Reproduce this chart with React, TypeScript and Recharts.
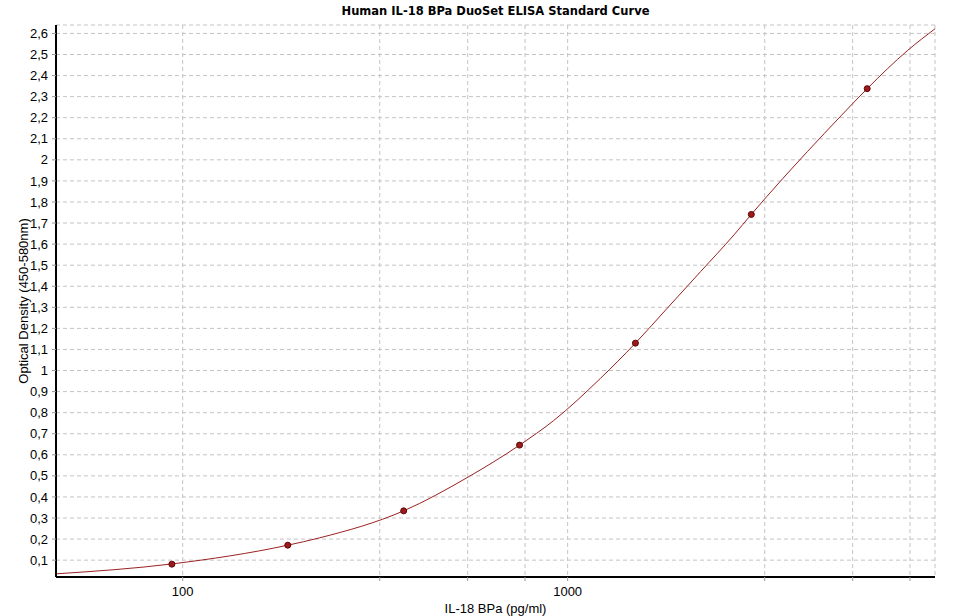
import React from "react"
import { ComposedChart, Line, Scatter, XAxis, YAxis, CartesianGrid } from "recharts"

// standards (pg/ml) and measured OD
const standardConc = [93.75, 187.5, 375, 750, 1500, 3000, 6000]
const standardOD = [0.081, 0.171, 0.334, 0.646, 1.13, 1.741, 2.338]

// fitted curve
const curveConc = [46.875, 93.75, 187.5, 227, 375, 551, 750, 919, 1217, 1500, 1815, 2216, 2705, 3000, 3616, 4200, 5130, 6000, 7650, 9000]
const curveOD = [0.035, 0.082, 0.171, 0.206, 0.334, 0.494, 0.646, 0.762, 0.963, 1.13, 1.296, 1.47, 1.644, 1.741, 1.91, 2.04, 2.209, 2.338, 2.52, 2.622]

const xTicks = [100, 325, 550, 775, 1000, 3250, 5500, 7750]
const xTickLabels = ["100", "", "", "", "1000", "", "", ""]
const yTicks = [0.1, 0.2, 0.3, 0.4, 0.5, 0.6, 0.7, 0.8, 0.9, 1, 1.1, 1.2, 1.3, 1.4, 1.5, 1.6, 1.7, 1.8, 1.9, 2, 2.1, 2.2, 2.3, 2.4, 2.5, 2.6]

const curveData = curveConc.map((x, i) => ({ x, y: curveOD[i] }))
const pointData = standardConc.map((x, i) => ({ x, y: standardOD[i] }))

const font = "'Liberation Sans', Arial, sans-serif"

const Dot = (props: any) => {
  const { cx, cy } = props
  if (cx == null || cy == null) return null
  return <circle cx={cx} cy={cy} r={3} fill="#9e1a1a" stroke="#5c0505" strokeWidth={1} />
}

export default function App() {
  return (
    <div style={{ position: "relative", width: 955, height: 616, background: "#fff", fontFamily: font }}>
      <style>{"body{margin:0}"}</style>
      <div
        style={{
          position: "absolute",
          top: 4,
          left: 56,
          width: 879,
          textAlign: "center",
          fontFamily: "'DejaVu Sans', sans-serif",
          fontWeight: "bold",
          fontSize: 11.5,
          color: "#000",
        }}
      >
        Human IL-18 BPa DuoSet ELISA Standard Curve
      </div>
      <ComposedChart width={955} height={616} margin={{ top: 25, right: 20, left: 0, bottom: 0 }}>
        <CartesianGrid stroke="#c4c4c4" strokeDasharray="4 3" />
        <XAxis
          dataKey="x"
          type="number"
          scale="log"
          domain={[46.875, 9000]}
          allowDataOverflow
          ticks={xTicks}
          interval={0}
          tickFormatter={(v: number) => xTickLabels[xTicks.indexOf(v)] ?? ""}
          height={39}
          tickSize={4}
          tickMargin={6}
          axisLine={{ stroke: "#000", strokeWidth: 2 }}
          tickLine={{ stroke: "#999" }}
          tick={{ fill: "#000", fontSize: 13, fontFamily: font }}
          label={{ value: "IL-18 BPa (pg/ml)", position: "insideBottom", offset: 3, fill: "#000", fontSize: 13, fontFamily: font }}
        />
        <YAxis
          dataKey="y"
          type="number"
          domain={[0.02, 2.64]}
          allowDataOverflow
          ticks={yTicks}
          interval={0}
          tickFormatter={(v: number) => String(v).replace(".", ",")}
          width={56}
          tickSize={4}
          tickMargin={4}
          axisLine={{ stroke: "#000", strokeWidth: 2 }}
          tickLine={{ stroke: "#999" }}
          tick={{ fill: "#000", fontSize: 13, fontFamily: font }}
          label={{
            value: "Optical Density (450-580nm)",
            angle: -90,
            position: "insideLeft",
            dx: 18,
            style: { textAnchor: "middle" },
            fill: "#000",
            fontSize: 13,
            fontFamily: font,
          }}
        />
        <Line
          data={curveData}
          dataKey="y"
          type="monotone"
          stroke="#9a2222"
          strokeWidth={1}
          dot={false}
          activeDot={false}
          isAnimationActive={false}
        />
        <Scatter data={pointData} dataKey="y" shape={<Dot />} isAnimationActive={false} />
      </ComposedChart>
    </div>
  )
}
